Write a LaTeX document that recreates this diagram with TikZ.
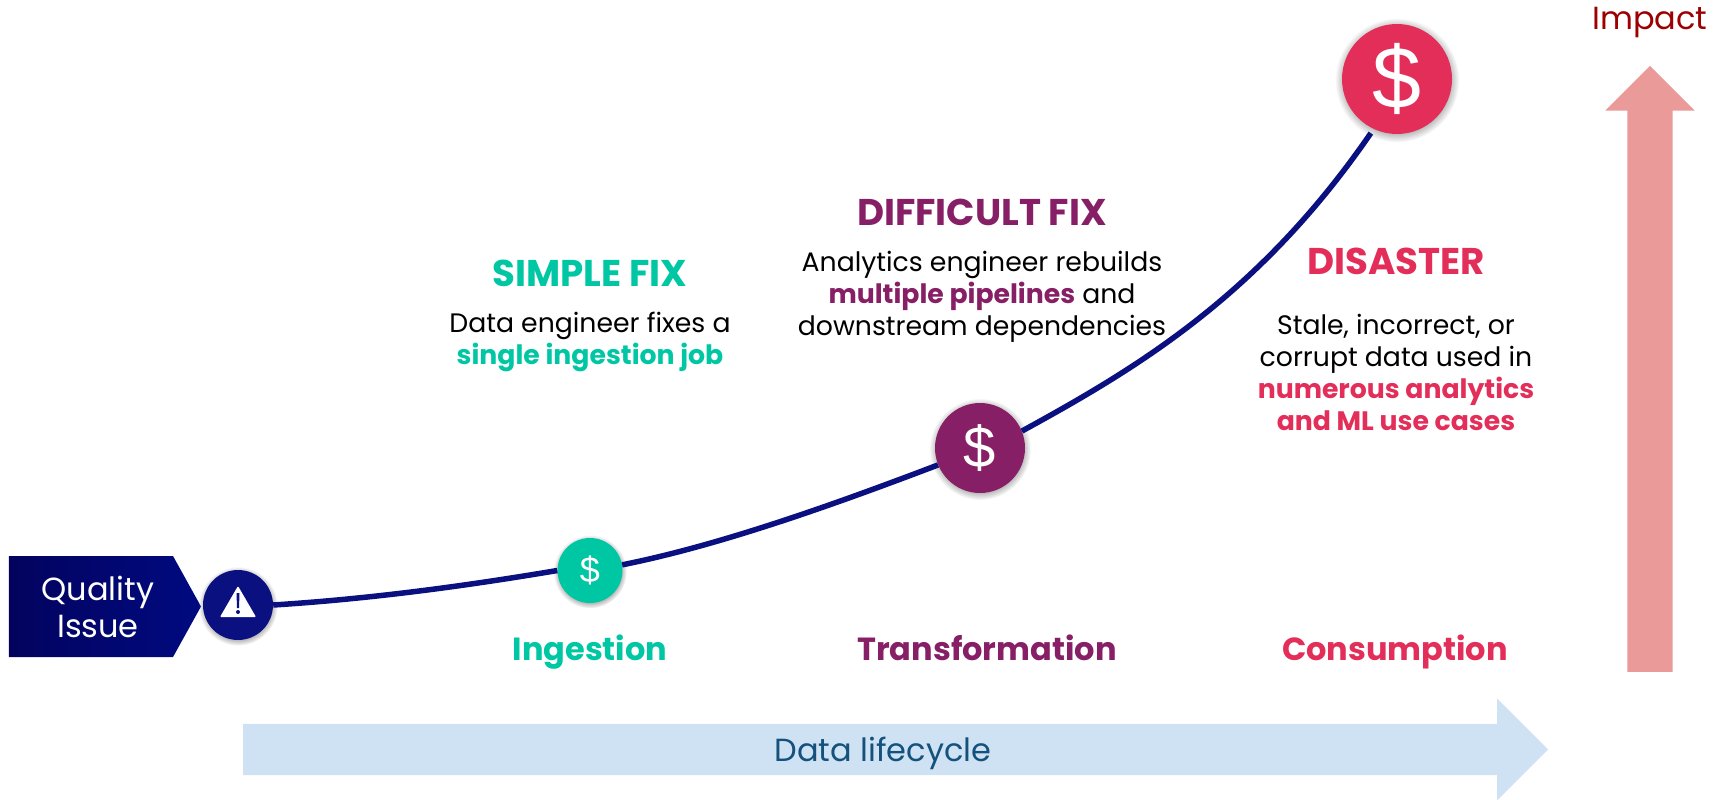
\documentclass[tikz,border=0pt]{standalone}
\usepackage{fontspec}
\setmainfont{Poppins}
\newfontfamily\dollarfont{Liberation Sans}
\usepackage{tikz}
\usetikzlibrary{positioning,shapes.arrows,shapes.symbols,shadows}

\definecolor{ingestcol}{HTML}{00C7A3}
\definecolor{transfcol}{HTML}{861F65}
\definecolor{consumcol}{HTML}{E22E59}
\definecolor{curvecol}{HTML}{0A1080}
\definecolor{impactcol}{HTML}{9C0000}
\definecolor{uparrowcol}{HTML}{EA9A98}
\definecolor{lifearrowcol}{HTML}{CFE2F3}
\definecolor{lifetextcol}{HTML}{14517C}
\definecolor{sourceleft}{HTML}{03035E}
\definecolor{sourceright}{HTML}{000A80}

\newcommand{\pxfont}[2]{\fontsize{#1}{#2}\selectfont}
\newcommand{\hilite}[2]{\textcolor{#1}{\textbf{#2}}}

\tikzset{
  stage/.style={circle,inner sep=0pt,text=white,
    circular drop shadow={shadow scale=1.13,shadow xshift=0pt,shadow yshift=-1pt,opacity=.55}},
  heading/.style={font=\pxfont{37.2}{37.2}\bfseries,inner sep=0pt,text height=26pt,text depth=0pt},
  stagename/.style={font=\pxfont{32}{32}\bfseries,inner sep=0pt,text height=24pt,text depth=8pt},
  blurb/.style={font=\pxfont{26.7}{32},inner sep=0pt,align=center,text=black},
  bigarrow/.style={single arrow,single arrow head indent=0pt,single arrow tip angle=90,
    inner xsep=0pt,anchor=tail},
  curveline/.style={curvecol,line width=5.5pt},
}

\begin{document}
\begin{tikzpicture}[x=1pt,y=-1pt,on grid]
    \useasboundingbox (0,0) rectangle (1727,800);
    % background arrows
    \node[bigarrow,fill=uparrowcol,rotate=90,minimum height=606pt,inner ysep=22.5pt,
      single arrow head extend=22pt] (uparrow) at (1650,672) {};
    \node[bigarrow,fill=lifearrowcol,minimum height=1305pt,inner ysep=25.5pt,
      single arrow head extend=25.5pt] (lifearrow) at (243,749.5) {};
    \node[inner sep=0pt,text=lifetextcol,font=\pxfont{32}{32}] (lifetext) at (883,753) {Data lifecycle};
    \node[inner sep=0pt,text=impactcol,font=\pxfont{32}{32}] (impact) at (1650,23) {Impact};
    % source of the problem
    \node[signal,signal to=east,signal from=nowhere,signal pointer angle=122,inner sep=0pt,
      minimum width=192pt,minimum height=101pt,left color=sourceleft,right color=sourceright] (source) at (91,606.5) {};
    \node[inner sep=0pt,text=white,align=center,font=\pxfont{32}{37}] (sourcetext) at (98,607) {Quality\\Issue};
    % circles on the curve
    \node[stage,fill=curvecol,minimum size=70pt]  (warn)   at (238,605)     {};
    \node[stage,fill=ingestcol,minimum size=65pt,font=\dollarfont\pxfont{36}{36}] (ingest) at (590,570.5)   {\$};
    \node[stage,fill=transfcol,minimum size=90pt,font=\dollarfont\pxfont{58}{58}] (transf) at (980,448)     {\$};
    \node[stage,fill=consumcol,minimum size=110pt,font=\dollarfont\pxfont{88}{88}] (consum) at (1397,79)    {\$};
    % warning sign
    \fill[white,rounded corners=1pt] (220,617) -- (238,586) -- (256,617) -- cycle;
    \fill[curvecol] (236.5,593) -- (239.5,593) -- (239,608) -- (237,608) -- cycle;
    \fill[curvecol] (238,612) circle (2pt);
    % the curve
    \draw[curveline]
    (warn.east) .. controls +(95,-6) and +(-95,16) .. (ingest.west);
    \draw[curveline]
    (ingest.10) .. controls +(100,-20) and +(-100,38) .. (transf.202);
    \draw[curveline,shorten >=5pt]
    (transf.22) .. controls +(115,-63) and +(-115,167) .. (consum.245);
    % stage names
    \node[stagename,text=ingestcol] (ingestname) at (590,652)          {Ingestion};
    \node[stagename,text=transfcol] (transfname) [right=397pt of ingestname] {Transformation};
    \node[stagename,text=consumcol] (consumname) [right=408pt of transfname] {Consumption};
    % texts above the curve
    \node[heading,text=ingestcol] (simple)    at (590,273)  {SIMPLE FIX};
    \node[blurb] (simpletext)    [below=69pt of simple]    {Data engineer fixes a\\\hilite{ingestcol}{single ingestion job}};
    \node[heading,text=transfcol] (difficult) at (982,212)  {DIFFICULT FIX};
    \node[blurb] (difficulttext) [below=85pt of difficult] {Analytics engineer rebuilds\\\hilite{transfcol}{multiple pipelines} and\\downstream dependencies};
    \node[heading,text=consumcol] (disaster)  at (1396,261) {DISASTER};
    \node[blurb] (disastertext)  [below=111pt of disaster] {Stale, incorrect, or\\corrupt data used in\\\hilite{consumcol}{numerous analytics}\\\hilite{consumcol}{and ML use cases}};
  \end{tikzpicture}
\end{document}
